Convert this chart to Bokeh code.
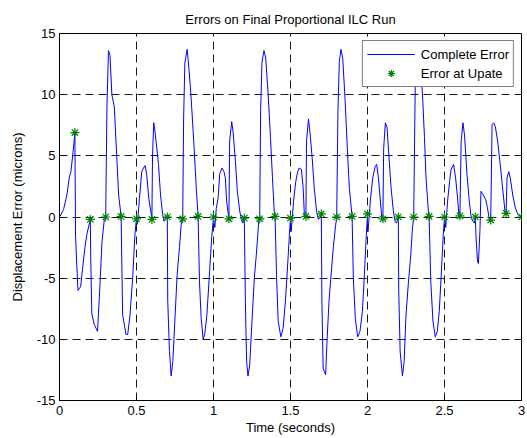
from bokeh.plotting import figure
from bokeh.models import Range1d, FixedTicker
from bokeh.embed import file_html
from bokeh.resources import INLINE

# ---- data ----
time_s = [
    0.0, 0.026, 0.048, 0.063, 0.074, 0.088, 0.1, 0.104, 0.111, 0.12, 0.137, 0.15, 0.165, 0.178, 0.2,
    0.203, 0.21, 0.226, 0.247, 0.263, 0.276, 0.291, 0.3, 0.308, 0.318, 0.328, 0.34, 0.356, 0.373, 0.384,
    0.4, 0.41, 0.432, 0.443, 0.458, 0.475, 0.49, 0.5,
    0.504, 0.508, 0.519, 0.534, 0.545, 0.556, 0.566, 0.58, 0.6, 0.604, 0.612, 0.62, 0.643, 0.656, 0.67,
    0.679, 0.688, 0.7, 0.703, 0.714, 0.725, 0.736, 0.751, 0.764, 0.779, 0.792, 0.8, 0.806, 0.814, 0.829,
    0.84, 0.855, 0.873, 0.888, 0.9, 0.909, 0.92, 0.933, 0.944, 0.957, 0.975, 0.988, 1.0,
    1.004, 1.009, 1.018, 1.03, 1.04, 1.055, 1.068, 1.077, 1.085, 1.1, 1.105, 1.118, 1.127, 1.142, 1.155,
    1.17, 1.181, 1.19, 1.2, 1.207, 1.215, 1.224, 1.235, 1.25, 1.265, 1.278, 1.294, 1.3, 1.306, 1.315,
    1.328, 1.339, 1.355, 1.37, 1.383, 1.394, 1.4, 1.409, 1.42, 1.437, 1.452, 1.467, 1.483, 1.493, 1.5,
    1.504, 1.51, 1.52, 1.534, 1.545, 1.556, 1.571, 1.582, 1.591, 1.6, 1.604, 1.617, 1.628, 1.641, 1.654,
    1.669, 1.68, 1.69, 1.7, 1.704, 1.712, 1.719, 1.728, 1.737, 1.75, 1.767, 1.778, 1.791, 1.8, 1.808,
    1.817, 1.828, 1.839, 1.854, 1.869, 1.882, 1.9, 1.908, 1.921, 1.936, 1.951, 1.967, 1.98, 1.99, 2.0,
    2.003, 2.009, 2.02, 2.034, 2.049, 2.06, 2.071, 2.082, 2.093, 2.1, 2.105, 2.116, 2.127, 2.14, 2.153,
    2.168, 2.179, 2.188, 2.2, 2.203, 2.212, 2.227, 2.238, 2.25, 2.266, 2.281, 2.292, 2.3, 2.31, 2.318,
    2.328, 2.338, 2.356, 2.37, 2.38, 2.395, 2.4, 2.411, 2.425, 2.44, 2.453, 2.466, 2.479, 2.492, 2.5,
    2.504, 2.508, 2.52, 2.533, 2.543, 2.559, 2.572, 2.585, 2.595, 2.6, 2.608, 2.62, 2.63, 2.646, 2.661,
    2.674, 2.685, 2.694, 2.7, 2.704, 2.714, 2.72, 2.73, 2.737, 2.752, 2.768, 2.779, 2.79, 2.8, 2.809,
    2.82, 2.83, 2.845, 2.862, 2.873, 2.884, 2.895, 2.9, 2.906, 2.917, 2.927, 2.943, 2.96, 2.977, 3.0,
]
error_um = [
    0.0, 0.6, 1.8, 3.2, 3.7, 5.3, 6.9, -1.4, -3.6, -6.0, -5.7, -4.2, -2.5, -1.4, -0.2,
    -3.5, -7.9, -8.8, -9.35, -5.5, -2.0, -0.2, 0.0, 9.0, 13.6, 13.2, 10.0, 9.0, 4.6, 1.8,
    0.05, -8.0, -9.6, -9.6, -8.0, -5.0, -1.4, -0.1,
    -0.6, -0.3, 1.5, 3.7, 4.0, 4.2, 3.5, 1.5, -0.15, 5.0, 7.7, 7.0, 4.3, 1.8, 0.2,
    -0.35, -0.2, 0.0, -6.9, -11.0, -13.0, -11.8, -8.0, -4.7, -2.5, -0.35, -0.15, 8.0, 12.6, 13.7,
    12.2, 9.7, 5.9, 2.4, 0.05, -5.3, -8.3, -10.0, -9.5, -8.0, -4.4, -1.7, 0.0,
    -0.5, -0.85, 0.7, 1.55, 3.5, 4.0, 3.7, 3.2, 1.3, -0.15, 6.2, 7.8, 7.0, 4.6, 2.1,
    0.5, -0.2, -0.5, -0.1, -6.9, -11.8, -13.0, -12.1, -8.5, -5.0, -3.1, -0.35, -0.15, 8.6, 12.7,
    13.6, 13.0, 10.0, 6.5, 3.2, 0.5, 0.05, -4.7, -8.5, -9.8, -9.1, -6.9, -3.6, -1.4, -0.1,
    -1.2, -0.3, 1.3, 2.9, 3.6, 4.0, 3.9, 2.4, -0.1, 0.05, 6.2, 8.0, 6.7, 4.8, 2.4,
    0.5, -0.2, -0.1, 0.25, -6.9, -12.4, -12.6, -12.9, -10.2, -6.9, -4.2, -2.5, -0.9, 0.0, 8.6,
    12.7, 13.7, 13.0, 9.7, 5.6, 2.4, 0.05, -5.0, -8.3, -9.8, -9.35, -7.7, -4.7, -2.0, 0.25,
    -1.2, -0.3, 1.55, 3.2, 4.1, 4.3, 3.2, 1.55, -0.1, -0.15, 5.6, 7.7, 7.3, 4.8, 2.4,
    0.5, -0.35, -0.5, 0.0, -6.1, -11.0, -13.0, -11.8, -8.0, -5.3, -3.1, -0.9, 0.0, 10.8, 13.0,
    13.6, 12.8, 10.3, 6.5, 3.2, 0.5, 0.05, -5.3, -8.5, -9.8, -9.35, -7.7, -4.7, -1.4, 0.0,
    -0.3, -0.85, 1.3, 2.9, 3.9, 4.3, 3.2, 1.55, -0.1, 0.1, 6.2, 7.7, 6.7, 3.5, 1.3,
    -0.1, -0.35, -0.5, 0.0, -1.4, -3.6, -3.8, -1.2, 2.1, 1.8, 1.4, 0.75, -0.1, -0.3, 7.55,
    7.7, 7.4, 6.2, 4.3, 2.9, 1.55, 0.2, 0.3, 3.2, 3.7, 3.2, 1.8, 0.75, 0.2, 0.0,
]

update_time = [0.1, 0.2, 0.3, 0.4, 0.5, 0.6, 0.7, 0.8, 0.9, 1.0,
               1.1, 1.2, 1.3, 1.4, 1.5, 1.6, 1.7, 1.8, 1.9, 2.0,
               2.1, 2.2, 2.3, 2.4, 2.5, 2.6, 2.7, 2.8, 2.9, 3.0]
update_error = [6.9, -0.2, 0.0, 0.05, -0.15, -0.2, 0.0, -0.15, 0.05, 0.0,
                -0.15, -0.1, -0.15, 0.05, -0.1, 0.05, 0.25, 0.0, 0.05, 0.25,
                -0.15, 0.0, 0.0, 0.05, 0.0, 0.1, 0.0, -0.25, 0.3, 0.0]

x_ticks = [0, 0.5, 1, 1.5, 2, 2.5, 3]
x_tick_labels = ["0", "0.5", "1", "1.5", "2", "2.5", "3"]
y_ticks = [-15, -10, -5, 0, 5, 10, 15]
y_tick_labels = ["-15", "-10", "-5", "0", "5", "10", "15"]

FONT = "Liberation Sans"

p = figure(
    output_backend="svg", toolbar_location=None,
    frame_width=462, frame_height=367,
    min_border_left=59, min_border_right=5, min_border_top=33, min_border_bottom=37,
    x_range=Range1d(0, 3), y_range=Range1d(-15, 15),
    title="Errors on Final Proportional ILC Run",
)
p.background_fill_color = "white"
p.border_fill_color = "white"
p.outline_line_color = "black"
p.outline_line_width = 1
p.outline_line_alpha = 1

p.title.align = "center"
p.title.vertical_align = "top"
p.title.text_font = FONT
p.title.text_font_size = "13px"
p.title.text_font_style = "normal"
p.title.text_color = "black"
p.title.standoff = 10

for ax, ticks, labels in ((p.xaxis[0], x_ticks, x_tick_labels), (p.yaxis[0], y_ticks, y_tick_labels)):
    ax.ticker = FixedTicker(ticks=ticks)
    ax.major_label_overrides = {t: l for t, l in zip(ticks, labels)}
    ax.minor_tick_line_color = None
    ax.major_tick_in = 4
    ax.major_tick_out = 0
    ax.axis_line_color = "black"
    ax.major_tick_line_color = "black"
    ax.major_label_text_font = FONT
    ax.major_label_text_font_size = "13px"
    ax.major_label_text_color = "black"
    ax.axis_label_text_font = FONT
    ax.axis_label_text_font_size = "13px"
    ax.axis_label_text_font_style = "normal"
    ax.axis_label_text_color = "black"

p.xaxis.axis_label = "Time (seconds)"
p.yaxis.axis_label = "Displacement Error (microns)"
p.xaxis.major_label_standoff = 5
p.xaxis.axis_label_standoff = 2
p.yaxis.major_label_standoff = 4
p.yaxis.axis_label_standoff = 9

p.xgrid.ticker = FixedTicker(ticks=x_ticks)
p.ygrid.ticker = FixedTicker(ticks=y_ticks)
for g in (p.xgrid[0], p.ygrid[0]):
    g.grid_line_color = "black"
    g.grid_line_alpha = 0.9
    g.grid_line_dash = "8 5"
    g.grid_line_width = 1

p.line(time_s, error_um, line_color="#0000FF", line_width=1, legend_label="Complete Error")
p.scatter(update_time, update_error, marker="asterisk", size=9, line_color="#008000",
          line_width=1.2, legend_label="Error at Upate")

lg = p.legend[0]
lg.location = "top_right"
lg.margin = 7
lg.padding = 4
lg.spacing = 1
lg.label_height = 18
lg.glyph_height = 18
lg.glyph_width = 48
lg.label_standoff = 6
lg.label_text_font = FONT
lg.label_text_font_size = "13px"
lg.label_text_color = "black"
lg.border_line_color = "black"
lg.border_line_width = 1.5
lg.background_fill_color = "white"
lg.background_fill_alpha = 1

open("out.html", "w").write(file_html(p, INLINE))
